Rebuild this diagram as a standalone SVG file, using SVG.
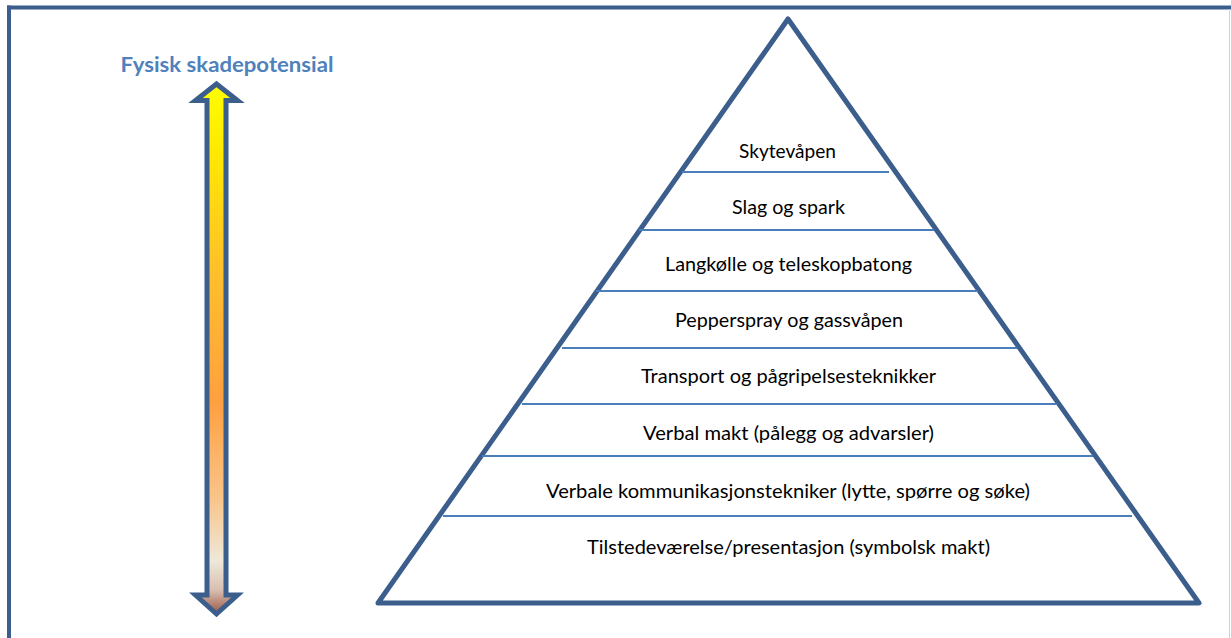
<svg xmlns="http://www.w3.org/2000/svg" width="1231" height="638" viewBox="0 0 1231 638">
<style>
.lbl{font-family:Lato,"Liberation Sans",sans-serif;font-size:19px;fill:#000;text-anchor:middle}
.div{stroke:#4A7EBB;stroke-width:2}
</style>
<defs>
<linearGradient id="g" x1="0" y1="0" x2="0" y2="1">
<stop offset="0" stop-color="#FFFF00"/>
<stop offset="0.12" stop-color="#FFEA00"/>
<stop offset="0.35" stop-color="#FFC02A"/>
<stop offset="0.6" stop-color="#FFA040"/>
<stop offset="0.78" stop-color="#F9C488"/>
<stop offset="0.9" stop-color="#EEE8DA"/>
<stop offset="0.955" stop-color="#D8BFB0"/>
<stop offset="1" stop-color="#9A5646"/>
</linearGradient>
</defs>
<rect width="1231" height="638" fill="#fff"/>
<g id="frame">
<line x1="7" y1="7.5" x2="1231" y2="7.5" stroke="#3B5E8C" stroke-width="4"/>
<line x1="9" y1="5.5" x2="9" y2="638" stroke="#3B5E8C" stroke-width="4"/>
<line x1="1229.5" y1="9" x2="1229.5" y2="638" stroke="#C9D3E3" stroke-width="1"/>
</g>
<g id="title">
<text x="227" y="72" font-family="Lato,'Liberation Sans',sans-serif" font-weight="bold" font-size="20.5" fill="#4F81BD" text-anchor="middle" textLength="213" lengthAdjust="spacingAndGlyphs">Fysisk skadepotensial</text>
</g>
<g id="arrow">
<path d="M216.5,84 L237.5,100.5 L226,100.5 L226,595 L237.5,595 L216.5,614 L195.5,595 L207,595 L207,100.5 L195.5,100.5 Z" fill="url(#g)" stroke="#3B5E8C" stroke-width="5" stroke-linejoin="miter"/>
</g>
<g id="pyramid">
<path d="M788,19 L1199,603 L378,603 Z" fill="#fff" stroke="#3B5E8C" stroke-width="5" stroke-linejoin="round"/>
</g>
<g id="connectors">
<line class="div" x1="682" y1="172" x2="889" y2="172"/>
<line class="div" x1="639" y1="230" x2="934" y2="230"/>
<line class="div" x1="596" y1="291" x2="978" y2="291"/>
<line class="div" x1="562" y1="348" x2="1017" y2="348"/>
<line class="div" x1="522" y1="404" x2="1057" y2="404"/>
<line class="div" x1="482" y1="456" x2="1093" y2="456"/>
<line class="div" x1="443" y1="516" x2="1132" y2="516"/>
</g>
<g id="level1"><text class="lbl" x="787.5" y="158" textLength="97" lengthAdjust="spacingAndGlyphs">Skytevåpen</text></g>
<g id="level2"><text class="lbl" x="788.5" y="214" textLength="113" lengthAdjust="spacingAndGlyphs">Slag og spark</text></g>
<g id="level3"><text class="lbl" x="788.5" y="271" textLength="247" lengthAdjust="spacingAndGlyphs">Langkølle og teleskopbatong</text></g>
<g id="level4"><text class="lbl" x="789" y="327" textLength="228" lengthAdjust="spacingAndGlyphs">Pepperspray og gassvåpen</text></g>
<g id="level5"><text class="lbl" x="788.5" y="383" textLength="295" lengthAdjust="spacingAndGlyphs">Transport og pågripelsesteknikker</text></g>
<g id="level6"><text class="lbl" x="788.5" y="440" textLength="291" lengthAdjust="spacingAndGlyphs">Verbal makt (pålegg og advarsler)</text></g>
<g id="level7"><text class="lbl" x="788" y="498" textLength="484" lengthAdjust="spacingAndGlyphs">Verbale kommunikasjonstekniker (lytte, spørre og søke)</text></g>
<g id="level8"><text class="lbl" x="788.5" y="554" textLength="403" lengthAdjust="spacingAndGlyphs">Tilstedeværelse/presentasjon (symbolsk makt)</text></g>
</svg>
